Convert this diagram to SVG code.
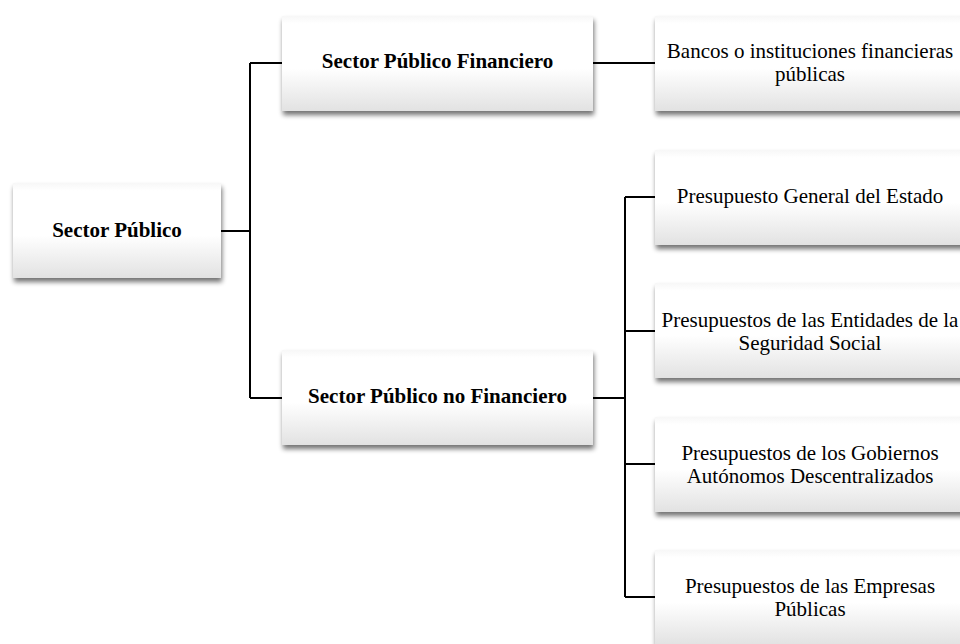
<svg xmlns="http://www.w3.org/2000/svg" width="960" height="644" viewBox="0 0 960 644">
<defs>
<linearGradient id="g" x1="0" y1="0" x2="0" y2="1">
<stop offset="0" stop-color="#f7f7f7"/>
<stop offset="0.08" stop-color="#ffffff"/>
<stop offset="0.55" stop-color="#ffffff"/>
<stop offset="1" stop-color="#e2e2e2"/>
</linearGradient>
<filter id="sh" x="-10%" y="-10%" width="130%" height="140%">
<feGaussianBlur in="SourceAlpha" stdDeviation="2.5"/>
<feOffset dx="1" dy="4" result="b"/>
<feComponentTransfer><feFuncA type="linear" slope="0.55"/></feComponentTransfer>
<feMerge><feMergeNode/><feMergeNode in="SourceGraphic"/></feMerge>
</filter>
</defs>
<style>
.box{fill:url(#g);filter:url(#sh);}
.t{font-family:"Liberation Serif","Times New Roman",serif;font-size:21px;fill:#000;text-anchor:middle;}
.b{font-weight:bold;}
.c{fill:none;stroke:#000;stroke-width:2;}
</style>
<rect width="960" height="644" fill="#fff"/>
<g id="connectors">
<path class="c" d="M221 231H250M250 63V398M250 63H282M250 398H282"/>
<path class="c" d="M593 63H655"/>
<path class="c" d="M593 398H625M625 197V597M625 197H655M625 331H655M625 464H655M625 597H655"/>
</g>
<g id="n-sector-publico">
<rect class="box" x="13" y="183" width="208" height="95"/>
<text class="t b" x="117" y="237">Sector Público</text>
</g>
<g id="n-spf">
<rect class="box" x="282" y="16" width="311" height="95"/>
<text class="t b" x="437.5" y="68">Sector Público Financiero</text>
</g>
<g id="n-spnf">
<rect class="box" x="282" y="350" width="311" height="95"/>
<text class="t b" x="437.5" y="403">Sector Público no Financiero</text>
</g>
<g id="n-bancos">
<rect class="box" x="655" y="16" width="311" height="95"/>
<text class="t" x="810" y="57.5">Bancos o instituciones financieras</text>
<text class="t" x="810" y="80.5">públicas</text>
</g>
<g id="n-pge">
<rect class="box" x="655" y="150" width="311" height="95"/>
<text class="t" x="810" y="203">Presupuesto General del Estado</text>
</g>
<g id="n-pess">
<rect class="box" x="655" y="283" width="311" height="95"/>
<text class="t" x="810" y="326.5">Presupuestos de las Entidades de la</text>
<text class="t" x="810" y="349.5">Seguridad Social</text>
</g>
<g id="n-pgad">
<rect class="box" x="655" y="417" width="311" height="95"/>
<text class="t" x="810" y="460">Presupuestos de los Gobiernos</text>
<text class="t" x="810" y="483">Autónomos Descentralizados</text>
</g>
<g id="n-pep">
<rect class="box" x="655" y="550" width="311" height="95"/>
<text class="t" x="810" y="592.5">Presupuestos de las Empresas</text>
<text class="t" x="810" y="615.5">Públicas</text>
</g>
</svg>
